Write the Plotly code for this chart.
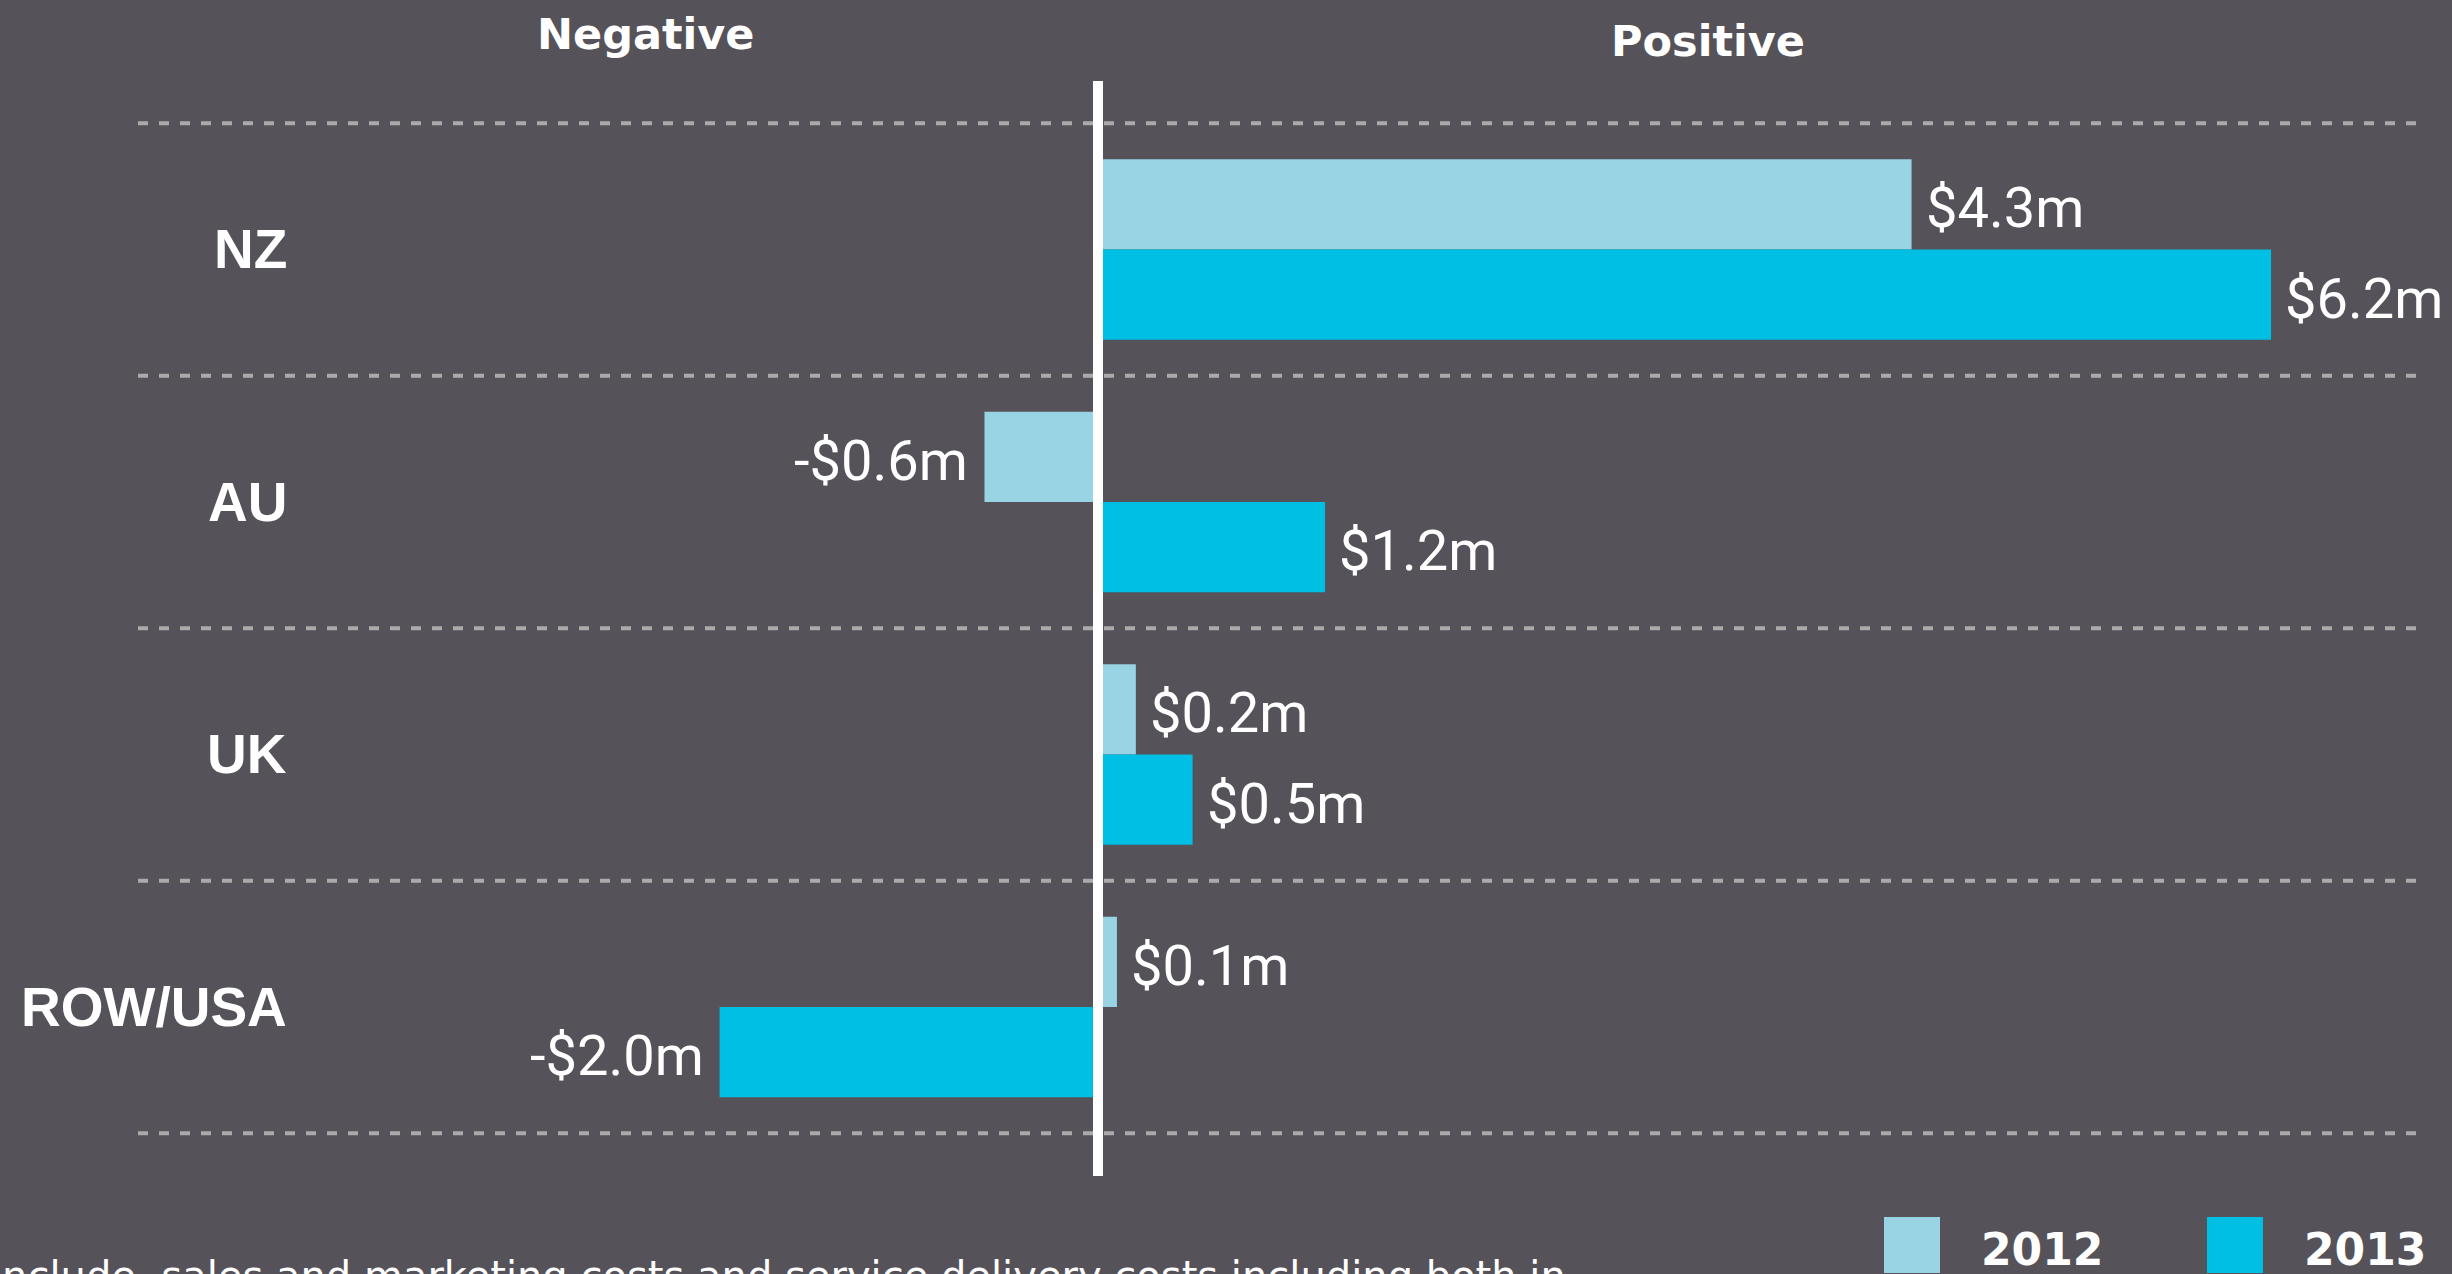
import plotly.graph_objects as go

# ---- data ----
regions = ["NZ", "AU", "UK", "ROW/USA"]
years = ["2012", "2013"]
values_2012 = [4.3, -0.6, 0.2, 0.1]
values_2013 = [6.2, 1.2, 0.5, -2.0]
header_labels = ["Negative", "Positive"]
footnote = "include, sales and marketing costs and service delivery costs including both in"

# ---- style ----
W, H = 2452, 1274
BG = "#55525a"
C2012 = "#99d4e4"
C2013 = "#00bfe4"
BARGAP = 0.285
WHITE = "#ffffff"

def fmt(v):
    return ("-" if v < 0 else "") + "$" + f"{abs(v):.1f}" + "m"

def px_x(p):
    return p / W

def px_y(p):
    return 1 - p / H

fig = go.Figure()
for name, vals, col in [(years[0], values_2012, C2012), (years[1], values_2013, C2013)]:
    fig.add_trace(go.Bar(
        y=regions, x=vals, name=name, orientation="h",
        marker=dict(color=col, line=dict(width=0)),
        showlegend=False, hoverinfo="x+y+name",
    ))

annotations = []
# value labels next to bar ends
half = (1 - BARGAP) / 4.0
for sign, vals in [(-1, values_2012), (1, values_2013)]:
    for i, v in enumerate(vals):
        annotations.append(dict(
            x=v, y=i + sign * half, xref="x", yref="y",
            text=fmt(v), showarrow=False,
            xanchor="left" if v >= 0 else "right", yanchor="middle",
            xshift=12 if v >= 0 else -14, yshift=-4,
            font=dict(family="Roboto", size=56, color=WHITE),
        ))

# category labels
for i, r in enumerate(regions):
    annotations.append(dict(
        x=px_x(289), y=i, xref="paper", yref="y", text=r, showarrow=False,
        xanchor="right", yanchor="middle",
        font=dict(family="Liberation Sans", size=55, color=WHITE, weight="bold"),
    ))

# headers
for txt, cx, cy in [(header_labels[0], 645, 34), (header_labels[1], 1708, 41)]:
    annotations.append(dict(
        x=px_x(cx), y=px_y(cy), xref="paper", yref="paper", text=txt, showarrow=False,
        xanchor="center", yanchor="middle",
        font=dict(family="DejaVu Sans", size=43, color=WHITE, weight="bold"),
    ))

# legend (custom, large squares)
shapes = []
for yr, col, sx, tx in [(years[0], C2012, 1884, 1979), (years[1], C2013, 2207, 2302)]:
    shapes.append(dict(type="rect", xref="paper", yref="paper",
                       x0=px_x(sx), x1=px_x(sx + 56), y0=px_y(1273), y1=px_y(1217),
                       fillcolor=col, line=dict(width=0), layer="above"))
    annotations.append(dict(
        x=px_x(tx), y=px_y(1249), xref="paper", yref="paper", text=yr, showarrow=False,
        xanchor="left", yanchor="middle",
        font=dict(family="DejaVu Sans", size=44, color=WHITE, weight="bold"),
    ))

# footnote (cut by the bottom edge in the original)
annotations.append(dict(
    x=px_x(-11), y=px_y(1276), xref="paper", yref="paper", text=footnote, showarrow=False,
    xanchor="left", yanchor="middle",
    font=dict(family="DejaVu Sans", size=40, color=WHITE),
))

# dashed separators at category boundaries
for k in range(len(regions) + 1):
    shapes.append(dict(type="line", xref="paper", yref="y",
                       x0=px_x(138), x1=px_x(2424), y0=k - 0.5, y1=k - 0.5,
                       line=dict(color="#aaaaaa", width=4, dash="10px,11px"), layer="below"))

# zero line
shapes.append(dict(type="line", xref="x", yref="paper", x0=0, x1=0,
                   y0=px_y(81), y1=px_y(1176), line=dict(color=WHITE, width=10), layer="above"))

zero_px = 1098
unit_px = 189.2
c0_px = 249.4
cat_px = 252.5

fig.update_layout(
    width=W, height=H,
    margin=dict(l=0, r=0, t=0, b=0),
    paper_bgcolor=BG, plot_bgcolor=BG,
    barmode="group", bargap=BARGAP, bargroupgap=0,
    xaxis=dict(range=[-zero_px / unit_px, (W - zero_px) / unit_px],
               showgrid=False, zeroline=False, showticklabels=False, showline=False, ticks=""),
    yaxis=dict(type="category", categoryorder="array", categoryarray=regions,
               range=[(H - c0_px) / cat_px, -c0_px / cat_px],
               showgrid=False, zeroline=False, showticklabels=False, showline=False, ticks=""),
    annotations=annotations,
    shapes=shapes,
    showlegend=False,
)

fig.write_html(
    "out.html",
    config={"displayModeBar": False},
    post_script="document.body.style.margin='0';document.body.style.padding='0';"
                "document.body.style.overflow='hidden';document.body.style.background='" + BG + "';",
)
